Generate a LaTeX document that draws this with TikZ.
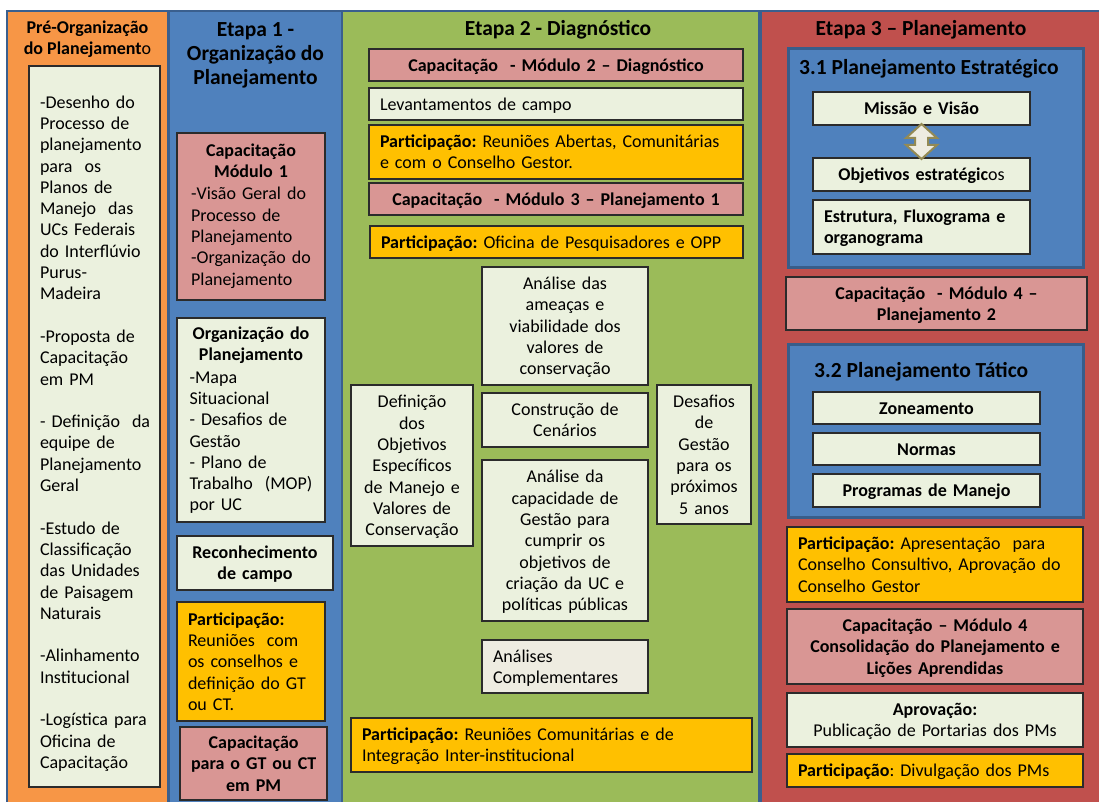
\documentclass[tikz,border=0pt]{standalone}
\usepackage{fontspec}
\setmainfont{Carlito}
\usetikzlibrary{calc}
\setlength\lineskip{0pt}
\frenchspacing
\definecolor{frameblue}{HTML}{3A5F8E}
\definecolor{orangefill}{HTML}{F79646}
\definecolor{bluefill}{HTML}{4F81BD}
\definecolor{greenfill}{HTML}{9BBB59}
\definecolor{redfill}{HTML}{C0504D}
\definecolor{pinkfill}{HTML}{D99694}
\definecolor{goldfill}{HTML}{FFC000}
\definecolor{lightfill}{HTML}{EBF1DE}
\definecolor{beigefill}{HTML}{EEECE1}
\definecolor{boxline}{HTML}{2B2B2B}
\definecolor{arrowline}{HTML}{948A54}
\definecolor{innerframe}{HTML}{385D8A}
\newcommand\ltab[2][2pt]{\raisebox{-#1}[\height][\depth]{\begin{tabular}[t]{@{}l@{}}#2\end{tabular}}}
\newcommand\ctab[2][2pt]{\raisebox{-#1}[\height][\depth]{\begin{tabular}[t]{@{}c@{}}#2\end{tabular}}}
\newcommand\placebox[7]{%
  \pgfmathsetmacro\pbw{#4-#2}%
  \pgfmathsetmacro\pbh{#5-#3}%
  \pgfmathsetmacro\pbtw{#4-#2-22}%
  \pgfmathsetmacro\pbx{(#2+#4)/2}%
  \pgfmathsetmacro\pby{(#3+#5)/2}%
  \node[#6, text width=\pbtw pt, minimum width=\pbw pt, minimum height=\pbh pt] (#1) at (\pbx,\pby) {#7};}
\newcommand\placerect[6]{%
  \pgfmathsetmacro\pbw{#4-#2}%
  \pgfmathsetmacro\pbh{#5-#3}%
  \pgfmathsetmacro\pbx{(#2+#4)/2}%
  \pgfmathsetmacro\pby{(#3+#5)/2}%
  \node[inner sep=0pt, #6, minimum width=\pbw pt, minimum height=\pbh pt] (#1) at (\pbx,\pby) {};}
\begin{document}
\begin{tikzpicture}[x=1pt,y=-1pt,
  font=\fontsize{18}{21.3}\selectfont,
  stdbox/.style={draw=boxline, line width=1.2pt, inner xsep=11pt, inner ysep=0pt, text=black},
  lightbox/.style={stdbox, fill=lightfill},
  pinkbox/.style={stdbox, fill=pinkfill},
  goldbox/.style={stdbox, fill=goldfill},
  beigebox/.style={stdbox, fill=beigefill},
  lft/.style={align=left},
  ctr/.style={align=center},
  ttl/.style={inner sep=0pt, font=\fontsize{21.5}{24}\selectfont\bfseries},
  tac/.style={fill=bluefill, draw=innerframe, line width=3pt}]
\useasboundingbox (0,0) rectangle (1099,802);
% frame and columns
\placerect{frame}{6}{10}{1099}{802}{fill=frameblue}
\placerect{colpre}{8}{12}{167}{802}{fill=orangefill}
\placerect{colone}{170}{12}{341}{802}{fill=bluefill}
\placerect{coltwo}{343}{12}{758}{802}{fill=greenfill}
\placerect{colthree}{762}{12}{1099}{802}{fill=redfill}
% titles
\node[ttl, font=\fontsize{18}{21.3}\selectfont\bfseries, align=center] (tpre) at (87.5,39.5) {Pré-Organização\\do Planejament\textmd{o}};
\node[ttl, align=center] (tone) at (255.5,55) {Etapa 1 -\\Organização do\\Planejamento};
\node[ttl] (ttwo) at (558,30) {Etapa 2 - Diagnóstico};
\node[ttl] (tthree) at (921,30) {Etapa 3 – Planejamento};
% pre column
\placebox{prebox}{29}{66}{160}{787}{lightbox,lft}{\ltab[7.5pt]{-Desenho do\\Processo de\\planejamento\\para\ \ os\\Planos de\\Manejo\ \ das\\UCs Federais\\do Interflúvio\\Purus-\\Madeira\\ \\-Proposta de\\Capacitação\\em PM\\ \\- Definição\ \ da\\equipe de\\Planejamento\\Geral\\ \\-Estudo de\\Classificação\\das Unidades\\de Paisagem\\Naturais\\ \\-Alinhamento\\Institucional\\ \\-Logística para\\Oficina de\\Capacitação}}
% etapa 1
\placebox{capone}{177}{133}{325}{300}{pinkbox,ctr}{\ctab[0pt]{\textbf{Capacitação}\\\textbf{Módulo 1}}\par\raggedright\ltab[0pt]{-Visão Geral do\\Processo de\\Planejamento\\-Organização do\\Planejamento}}
\placebox{orgbox}{177}{318}{325}{522}{lightbox,ctr}{\ctab[1pt]{\textbf{Organização do}\\\textbf{Planejamento}}\par\raggedright\ltab[1pt]{-Mapa\\Situacional\\- Desafios de\\Gestão\\- Plano de\\Trabalho\ \ (MOP)\\por UC}}
\placebox{recbox}{177}{536}{333}{590}{lightbox,ctr}{\ctab{\textbf{Reconhecimento}\\\textbf{de campo}}}
\placebox{partone}{177}{602}{325}{721}{goldbox,lft}{\ltab{\textbf{Participação:}\\Reuniões\ \ com\\os conselhos e\\definição do GT\\ou CT.}}
\placebox{capgt}{180}{727}{327}{800}{pinkbox,ctr}{\ctab{\textbf{Capacitação}\\\textbf{para o GT ou CT}\\\textbf{em PM}}}
% etapa 2
\placebox{captwo}{369}{49}{743}{81}{pinkbox,ctr}{\ctab{\textbf{Capacitação\ \ - Módulo 2 – Diagnóstico}}}
\placebox{levbox}{369}{88}{743}{120}{lightbox,lft}{\ltab{Levantamentos de campo}}
\placebox{parttwo}{369}{125}{743}{179}{goldbox,lft}{\ltab{\textbf{Participação:} Reuniões Abertas, Comunitárias\\e com o Conselho Gestor.}}
\placebox{capthree}{369}{183}{743}{215}{pinkbox,ctr}{\ctab{\textbf{Capacitação\ \ - Módulo 3 – Planejamento 1}}}
\placebox{partthree}{370}{226}{743}{258}{goldbox,lft}{\ltab{\textbf{Participação:} Oficina de Pesquisadores e OPP}}
\placebox{ameacas}{482}{267}{648}{385}{lightbox,ctr}{\ctab{Análise das\\ameaças e\\viabilidade dos\\valores de\\conservação}}
\placebox{definbox}{351}{385}{473}{546}{lightbox,ctr}{\ctab{Definição\\dos\\Objetivos\\Específicos\\de Manejo e\\Valores de\\Conservação}}
\placebox{cenbox}{482}{393}{648}{447}{lightbox,ctr}{\ctab{Construção de\\Cenários}}
\placebox{desafbox}{657}{385}{751}{524}{lightbox,ctr}{\ctab{Desafios\\de\\Gestão\\para os\\próximos\\5 anos}}
\placebox{capacbox}{482}{460}{648}{621}{lightbox,ctr}{\ctab{Análise da\\capacidade de\\Gestão para\\cumprir os\\objetivos de\\criação da UC e\\políticas públicas}}
\placebox{complbox}{482}{640}{648}{693}{beigebox,lft}{\ltab{Análises\\Complementares}}
\placebox{partfour}{351}{718}{752}{772}{goldbox,lft}{\ltab{\textbf{Participação:} Reuniões Comunitárias e de\\Integração Inter-institucional}}
% etapa 3
\placerect{est}{788}{49}{1083}{267}{tac}
\node[ttl, anchor=west] (test) at (799,69) {3.1 Planejamento Estratégico};
\placebox{mv}{813}{92}{1030}{125}{lightbox,ctr}{\ctab{\textbf{Missão e Visão}}}
\placebox{oe}{813}{158}{1030}{191}{lightbox,ctr}{\ctab{\textbf{Objetivos estratégic}os}}
\placebox{efo}{813}{200}{1030}{254}{lightbox,lft}{\ltab{\textbf{Estrutura, Fluxograma e}\\\textbf{organograma}}}
\coordinate (mid) at ($(mv.south)!0.5!(oe.north)$);
\draw[fill=beigefill, draw=arrowline, line width=2pt, line join=miter]
  ($(mid)+(0,-17.5)$) -- ++(15.5,14) -- ++(-9,0) -- ++(0,7) -- ++(9,0)
  -- ($(mid)+(0,17.5)$) -- ++(-15.5,-14) -- ++(9,0) -- ++(0,-7) -- ++(-9,0) -- cycle;
\placebox{capfour}{786}{277}{1087}{330}{pinkbox,ctr}{\ctab{\textbf{Capacitação\ \ - Módulo 4 –}\\\textbf{Planejamento 2}}}
\placerect{tat}{788}{344}{1083}{517}{tac}
\node[ttl, anchor=west] (ttat) at (814,372) {3.2 Planejamento Tático};
\placebox{zon}{813}{392}{1040}{424}{lightbox,ctr}{\ctab{\textbf{Zoneamento}}}
\placebox{nor}{813}{433}{1040}{465}{lightbox,ctr}{\ctab{\textbf{Normas}}}
\placebox{prog}{813}{474}{1040}{507}{lightbox,ctr}{\ctab{\textbf{Programas de Manejo}}}
\placebox{partfive}{787}{527}{1083}{602}{goldbox,lft}{\ltab{\textbf{Participação:} Apresentação\ \ para\\Conselho Consultivo, Aprovação do\\Conselho Gestor}}
\placebox{capfive}{787}{609}{1083}{684}{pinkbox,ctr}{\ctab{\textbf{Capacitação – Módulo 4}\\\textbf{Consolidação do Planejamento e}\\\textbf{Lições Aprendidas}}}
\placebox{aprbox}{787}{693}{1083}{747}{lightbox,ctr}{\ctab{\textbf{Aprovação:}\\Publicação de Portarias dos PMs}}
\placebox{partsix}{787}{754}{1083}{787}{goldbox,lft}{\ltab{\textbf{Participação}: Divulgação dos PMs}}
\end{tikzpicture}
\end{document}
